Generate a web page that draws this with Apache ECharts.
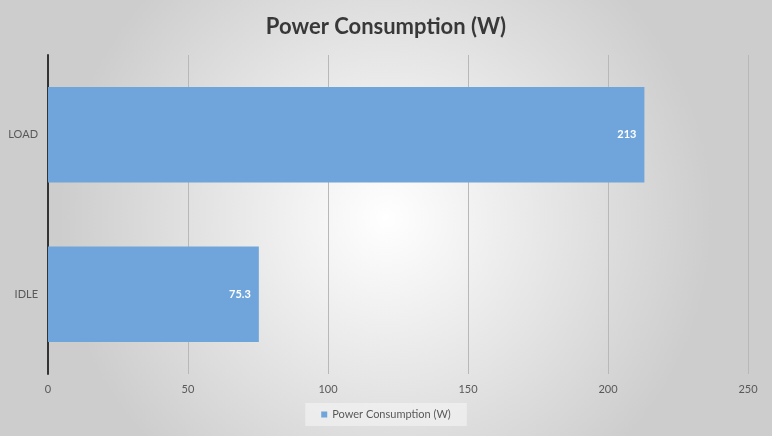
<!DOCTYPE html>
<html><head><meta charset="utf-8">
<script src="https://cdn.jsdelivr.net/npm/echarts@6/dist/echarts.min.js"></script>
<style>html,body{margin:0;padding:0}#c{width:772px;height:436px}</style>
</head><body><div id="c"></div>
<script>
const categories = ['IDLE', 'LOAD'];
const values = [75.3, 213];
const seriesName = 'Power Consumption (W)';
const titleText = 'Power Consumption (W)';

const chart = echarts.init(document.getElementById('c'));
chart.setOption({
  animation: false,
  backgroundColor: {
    type: 'radial', x: 0.5, y: 0.5, r: 0.75,
    colorStops: [{offset: 0, color: '#ffffff'}, {offset: 1, color: '#cdcdcd'}]
  },
  title: {
    text: titleText, left: 'center', top: 11,
    textStyle: {fontFamily: 'Lato', fontSize: 22, fontWeight: 'bold', color: '#383838'}
  },
  legend: {
    bottom: 10, left: 'center', itemWidth: 6, itemHeight: 6, icon: 'rect',
    backgroundColor: 'rgba(245,245,245,0.6)', padding: [6, 16],
    textStyle: {fontFamily: 'Lato', fontSize: 11, color: '#595959'},
    itemGap: 4
  },
  grid: {left: 48, right: 24, top: 55, bottom: 62},
  xAxis: {
    type: 'value', min: 0, max: 250, interval: 50,
    axisLine: {show: false}, axisTick: {show: false},
    axisLabel: {fontFamily: 'Lato', fontSize: 11, color: '#595959', margin: 10},
    splitLine: {lineStyle: {color: '#b8b8b8', width: 1}}
  },
  yAxis: {
    type: 'category', data: categories,
    axisLine: {lineStyle: {color: '#333333', width: 2}},
    axisTick: {show: false},
    axisLabel: {fontFamily: 'Lato', fontSize: 11, color: '#595959', margin: 10}
  },
  series: [{
    name: seriesName, type: 'bar', data: values,
    barCategoryGap: '40%',
    itemStyle: {color: '#6fa5db'},
    label: {show: true, position: 'insideRight', color: '#ffffff', fontFamily: 'Lato',
            fontSize: 11, fontWeight: 'bold', distance: 8}
  }]
});
</script></body></html>
